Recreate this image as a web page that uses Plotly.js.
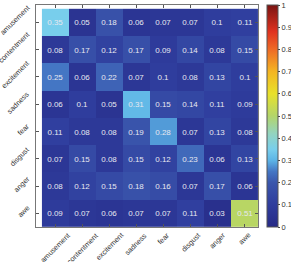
<!DOCTYPE html>
<html><head><meta charset="utf-8">
<script src="https://cdn.plot.ly/plotly-3.0.1.min.js"></script>
<style>html,body{margin:0;padding:0;background:#fff}#c{width:291px;height:262px}</style>
</head><body><div id="c"></div>
<script>
const categories = ["amusement","contentment","excitement","sadness","fear","disgust","anger","awe"];
const row_amusement   = [0.35,0.05,0.18,0.06,0.07,0.07,0.1,0.11];
const row_contentment = [0.08,0.17,0.12,0.17,0.09,0.14,0.08,0.15];
const row_excitement  = [0.25,0.06,0.22,0.07,0.1,0.08,0.13,0.1];
const row_sadness     = [0.06,0.1,0.05,0.31,0.15,0.14,0.11,0.09];
const row_fear        = [0.11,0.08,0.08,0.19,0.28,0.07,0.13,0.08];
const row_disgust     = [0.07,0.15,0.08,0.15,0.12,0.23,0.06,0.13];
const row_anger       = [0.08,0.12,0.15,0.18,0.16,0.07,0.17,0.06];
const row_awe         = [0.09,0.07,0.06,0.07,0.07,0.11,0.03,0.51];
const colorbarTicks = [0,0.1,0.2,0.3,0.4,0.5,0.6,0.7,0.8,0.9,1];

const z = [row_amusement,row_contentment,row_excitement,row_sadness,row_fear,row_disgust,row_anger,row_awe];

const cscale = [
  [0.0,'#262a86'],
  [0.1,'#2f3d9d'],
  [0.2,'#3a56ac'],
  [0.25,'#4476c4'],
  [0.3,'#5cb4e6'],
  [0.35,'#78ceec'],
  [0.42,'#93d4c0'],
  [0.5,'#b3d56a'],
  [0.6,'#e8e12a'],
  [0.7,'#f4b522'],
  [0.8,'#ee6a26'],
  [0.88,'#e0321f'],
  [1.0,'#7a1412']
];

const FONT = 'Liberation Sans, Arial, sans-serif';

const trace = {
  type:'heatmap', x:categories, y:categories, z:z,
  zmin:0, zmax:1, colorscale:cscale, xgap:0, ygap:0,
  texttemplate:'%{z}', textfont:{family:FONT, size:8, color:'#e6e8f0'},
  hoverinfo:'none',
  colorbar:{
    thickness:11, thicknessmode:'pixels', len:1, lenmode:'fraction',
    x:1.04, xanchor:'left', xpad:0, y:0.5, yanchor:'middle', ypad:0,
    tickvals:colorbarTicks, ticks:'outside', ticklen:2, tickcolor:'#444',
    tickfont:{family:FONT, size:7.5, color:'#333'},
    outlinewidth:1, outlinecolor:'#555'
  }
};

const axisCommon = {
  ticks:'inside', ticklen:3, tickcolor:'#555', mirror:'ticks',
  showline:true, linecolor:'#777', linewidth:1, showgrid:false, zeroline:false,
  showticklabels:false
};

const annotations = [];
categories.forEach(c => {
  annotations.push({
    x:c, xref:'x', y:0, yref:'paper', xanchor:'center', yanchor:'top',
    yshift:-1, text:c, textangle:-45, showarrow:false,
    font:{family:FONT, size:7.3, color:'#333'}
  });
  annotations.push({
    x:0, xref:'paper', y:c, yref:'y', xanchor:'right', yanchor:'middle',
    xshift:-2, yshift:2, text:c, textangle:-45, showarrow:false,
    font:{family:FONT, size:7.3, color:'#333'}
  });
});

const layout = {
  width:291, height:262,
  margin:{l:36, r:33, t:5, b:35, autoexpand:false},
  paper_bgcolor:'#fff', plot_bgcolor:'#fff',
  xaxis:Object.assign({}, axisCommon, {type:'category'}),
  yaxis:Object.assign({}, axisCommon, {type:'category', autorange:'reversed'}),
  annotations:annotations,
  showlegend:false
};

Plotly.newPlot('c',[trace],layout,{displayModeBar:false, staticPlot:true});
</script></body></html>
